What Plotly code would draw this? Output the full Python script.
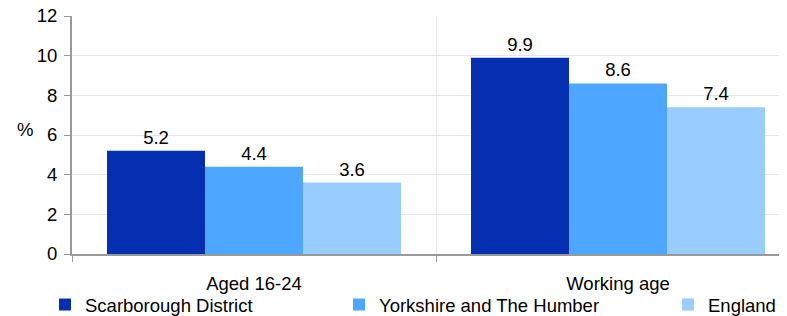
import plotly.graph_objects as go

categories = ["Aged 16-24", "Working age"]
series_names = ["Scarborough District", "Yorkshire and The Humber", "England"]
scarborough = [5.2, 9.9]
yorkshire = [4.4, 8.6]
england = [3.6, 7.4]
colors = ["#032FB0", "#4DA6FF", "#99CCFF"]
y_ticks = [0, 2, 4, 6, 8, 10, 12]

# The page body adds an 8px offset; the figure is sized to fill the rest of the window.
OFF = 8
W, H = 787 - OFF, 316 - OFF
ML, MT, MB = 72 - OFF, 16 - OFF, 62
plot_w = W - ML
plot_h = H - MT - MB
cat_px = 364.0
FONT = "Liberation Sans, Arial, sans-serif"
FS = 18.5

fig = go.Figure()
values = [scarborough, yorkshire, england]
legend_names = ["legend", "legend2", "legend3"]
legend_px = [45, 339, 668]
for name, vals, col, lg in zip(series_names, values, colors, legend_names):
    fig.add_trace(go.Bar(
        x=categories, y=vals, name=name, marker=dict(color=col, line=dict(width=0)),
        text=[f"{v:.1f}" for v in vals], textposition="outside",
        textfont=dict(size=FS, color="#000000", family=FONT),
        cliponaxis=False, legend=lg,
    ))

layout_legends = {}
for lg, px in zip(legend_names, legend_px):
    layout_legends[lg] = dict(
        x=(px - OFF) / W, xref="container", y=1 - (305 - OFF) / H, yref="container",
        yanchor="middle", xanchor="left",
        orientation="h", font=dict(size=FS, color="#000000", family=FONT),
        bgcolor="rgba(0,0,0,0)", itemclick=False,
    )

fig.update_layout(
    width=W, height=H,
    margin=dict(l=ML, r=0, t=MT, b=MB, pad=0, autoexpand=False),
    paper_bgcolor="white", plot_bgcolor="white",
    barmode="group", bargap=70 / 364, bargroupgap=0,
    font=dict(family=FONT, size=FS, color="#000000"),
    showlegend=True,
    xaxis=dict(
        type="category", range=[-0.5, -0.5 + plot_w / cat_px],
        tickson="boundaries", ticks="outside", ticklen=6, tickcolor="#999999",
        showgrid=True, gridcolor="#E6E6E6", gridwidth=1,
        showline=True, linecolor="#999999", linewidth=2,
        tickfont=dict(size=FS, color="#000000", family=FONT),
        ticklabelstandoff=12, ticklabeloverflow="allow",
        fixedrange=True,
    ),
    yaxis=dict(
        range=[0, 12], tickvals=y_ticks, ticks="outside", ticklen=6, tickcolor="#999999",
        showgrid=True, gridcolor="#E6E6E6", gridwidth=1,
        showline=True, linecolor="#999999", linewidth=2,
        zeroline=False,
        tickfont=dict(size=FS, color="#000000", family=FONT),
        ticklabelstandoff=3, ticklabeloverflow="allow",
        fixedrange=True,
    ),
    annotations=[dict(
        text="%", xref="paper", yref="paper", x=(25 - 72) / plot_w, y=(254 - 130) / plot_h,
        showarrow=False, xanchor="center", yanchor="middle",
        font=dict(size=FS, color="#000000", family=FONT),
    )],
    **layout_legends,
)

fig.write_html("out.html")
